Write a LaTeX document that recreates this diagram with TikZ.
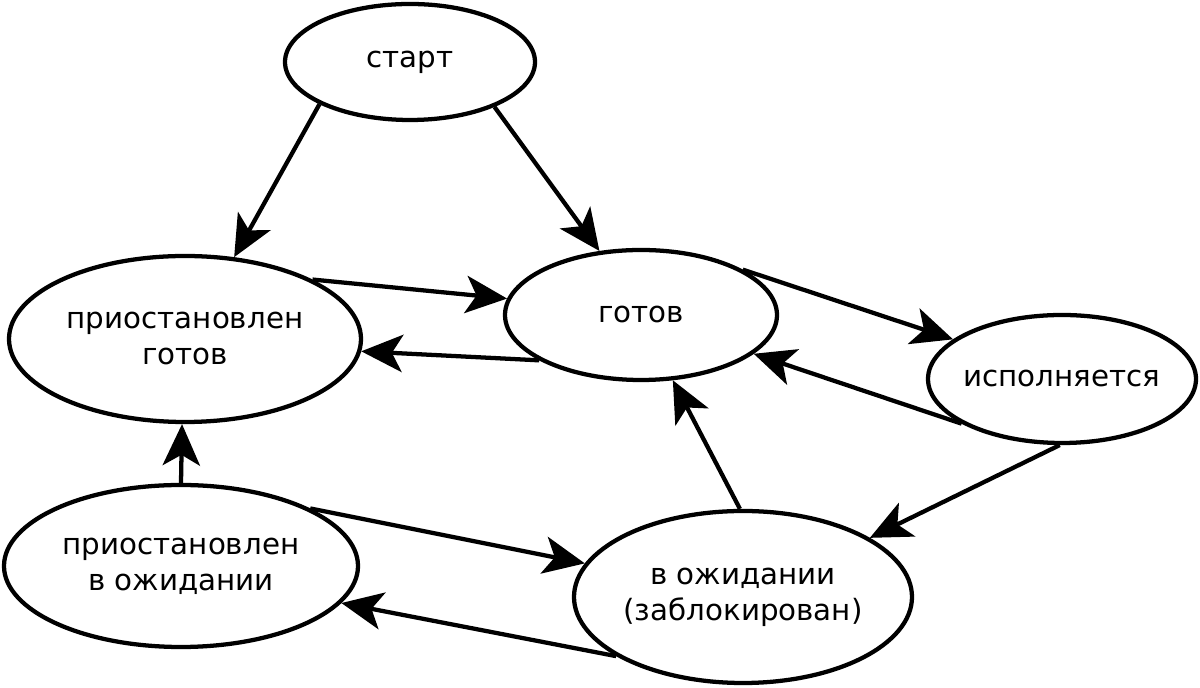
\documentclass[tikz,border=0pt]{standalone}
\usepackage{fontspec}
\setmainfont{DejaVu Sans}
\usetikzlibrary{shapes.geometric,arrows.meta}
\begin{document}
\begin{tikzpicture}[x=0.75pt,y=0.75pt,
  state/.style={ellipse,draw,line width=3.2pt,inner sep=-30pt,align=center,
    font=\fontsize{22}{27}\selectfont},
  conn/.style={line width=3.2pt,-{Stealth[length=31pt,width=28pt,inset=8pt]}}]
\useasboundingbox (0,0) rectangle (1200,688);
\node[state,minimum width=187.5pt,minimum height=87pt] (start) at (410,626) {старт};
\node[state,minimum width=264pt,minimum height=124.5pt] (pg) at (185,349) {приостановлен\\готов};
\node[state,minimum width=204pt,minimum height=97.5pt] (gotov) at (641,373) {готов};
\node[state,minimum width=201pt,minimum height=96pt] (isp) at (1062,309) {исполняется};
\node[state,minimum width=265.5pt,minimum height=121.5pt] (pw) at (181,122) {приостановлен\\в ожидании};
\node[state,minimum width=253.5pt,minimum height=129pt] (vozh) at (743,91) {в ожидании\\(заблокирован)};

\draw[conn] (start.205.6) -- (pg.59.2);
\draw[conn] (start.332.9) -- (gotov.123.7);
\draw[conn] (pg.25.7) -- (gotov.173.8);
\draw[conn] (gotov.204.9) -- (pg.356.5);
\draw[conn] (gotov.24.3) -- (isp.160.2);
\draw[conn] (isp.204.9) -- (gotov.341);
\draw[conn] (isp.268) -- (vozh.25.7);
\draw[conn] (vozh.92) -- (gotov.296.9);
\draw[conn] (pw.90) -- (pg.268);
\draw[conn] (pw.24.2) -- (vozh.168.4);
\draw[conn] (vozh.205.5) -- (pw.347.8);
\end{tikzpicture}
\end{document}
